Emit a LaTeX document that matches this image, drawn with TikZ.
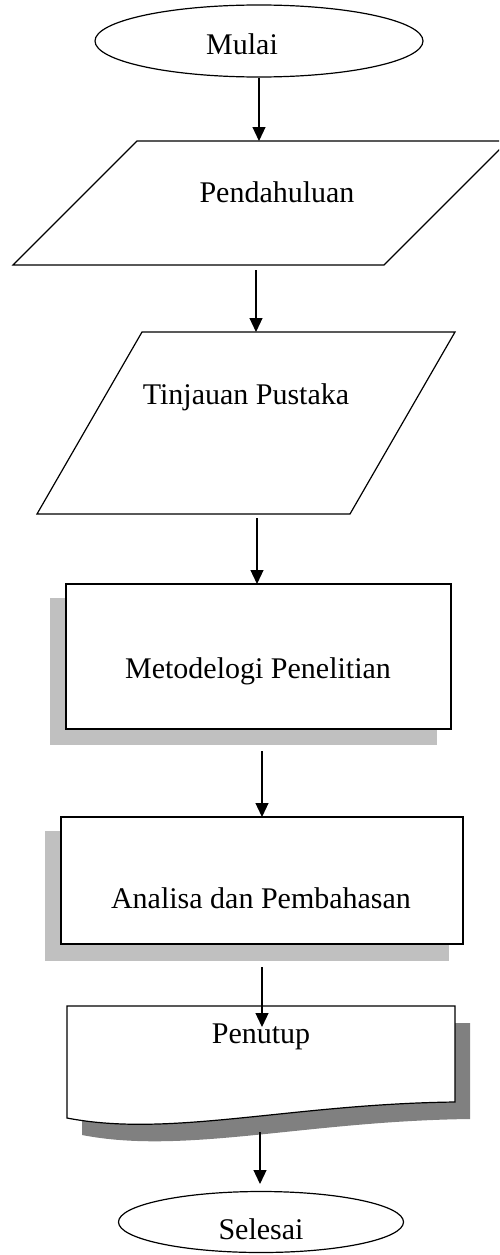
\documentclass[tikz,border=0pt]{standalone}
\usepackage{fontspec}
\setmainfont{Liberation Serif}
\usetikzlibrary{shapes.geometric,arrows.meta}
\definecolor{lightshadow}{HTML}{C0C0C0}
\definecolor{darkshadow}{HTML}{808080}
\begin{document}
\begin{tikzpicture}[x=1pt,y=-1pt,
  outline/.style={draw=black,line width=1.2pt,fill=white},
  label/.style={anchor=base,inner sep=0pt,font=\fontsize{30}{36}\selectfont},
  arr/.style={draw=black,line width=1.2pt,-{Triangle[length=14pt,width=13pt]}}]
\useasboundingbox (0,0) rectangle (499,1255);
\clip (0,0) rectangle (499,1255);
% Mulai
\node[ellipse,outline,minimum width=328pt,minimum height=72pt,inner sep=0pt] (mulai) at (259,41) {};
\node[label] (mulaitext) at (242,55) {Mulai};
% Pendahuluan
\draw[outline] (137,141) -- (508,141) -- (384,265) -- (13,265) -- cycle;
\node[label] (pend) at (277,202) {Pendahuluan};
% Tinjauan Pustaka
\draw[outline] (142,332) -- (455,332) -- (350,514) -- (37,514) -- cycle;
\node[label] (tinj) at (246,404) {Tinjauan Pustaka};
% Metodelogi
\fill[lightshadow] (50,598) rectangle (437,745);
\draw[outline] (66,584) rectangle (451,729);
\node[label] (meto) at (258,678) {Metodelogi Penelitian};
% Analisa
\fill[lightshadow] (45,831) rectangle (449,961);
\draw[outline] (61,817) rectangle (463,944);
\node[label] (anal) at (261,908) {Analisa dan Pembahasan};
% Penutup (document)
\fill[darkshadow,shift={(15,17)}] (67,1006) -- (455,1006) -- (455,1102) .. controls (290,1104) and (170,1138) .. (67,1118) -- cycle;
\draw[outline] (67,1006) -- (455,1006) -- (455,1102) .. controls (290,1104) and (170,1138) .. (67,1118) -- cycle;
\node[label] (penu) at (261,1043) {Penutup};
% Selesai
\node[ellipse,outline,minimum width=285pt,minimum height=61pt,inner sep=0pt] (sele) at (261,1222) {};
\node[label] (seletext) at (261,1239) {Selesai};
% connector ends
\coordinate (a1e) at (259,141);
\coordinate (a2s) at (256,270);
\coordinate (a2e) at (256,332);
\coordinate (a3s) at (257,518);
\coordinate (a3e) at (257,584);
\coordinate (a4s) at (262,751);
\coordinate (a4e) at (262,817);
\coordinate (a5s) at (262,967);
\coordinate (a5e) at (262,1027);
\coordinate (a6s) at (260,1132);
\coordinate (a6e) at (260,1184);
\draw[arr] (mulai.south) -- (a1e);
\draw[arr] (a2s) -- (a2e);
\draw[arr] (a3s) -- (a3e);
\draw[arr] (a4s) -- (a4e);
\draw[arr] (a5s) -- (a5e);
\draw[arr] (a6s) -- (a6e);
\end{tikzpicture}
\end{document}
